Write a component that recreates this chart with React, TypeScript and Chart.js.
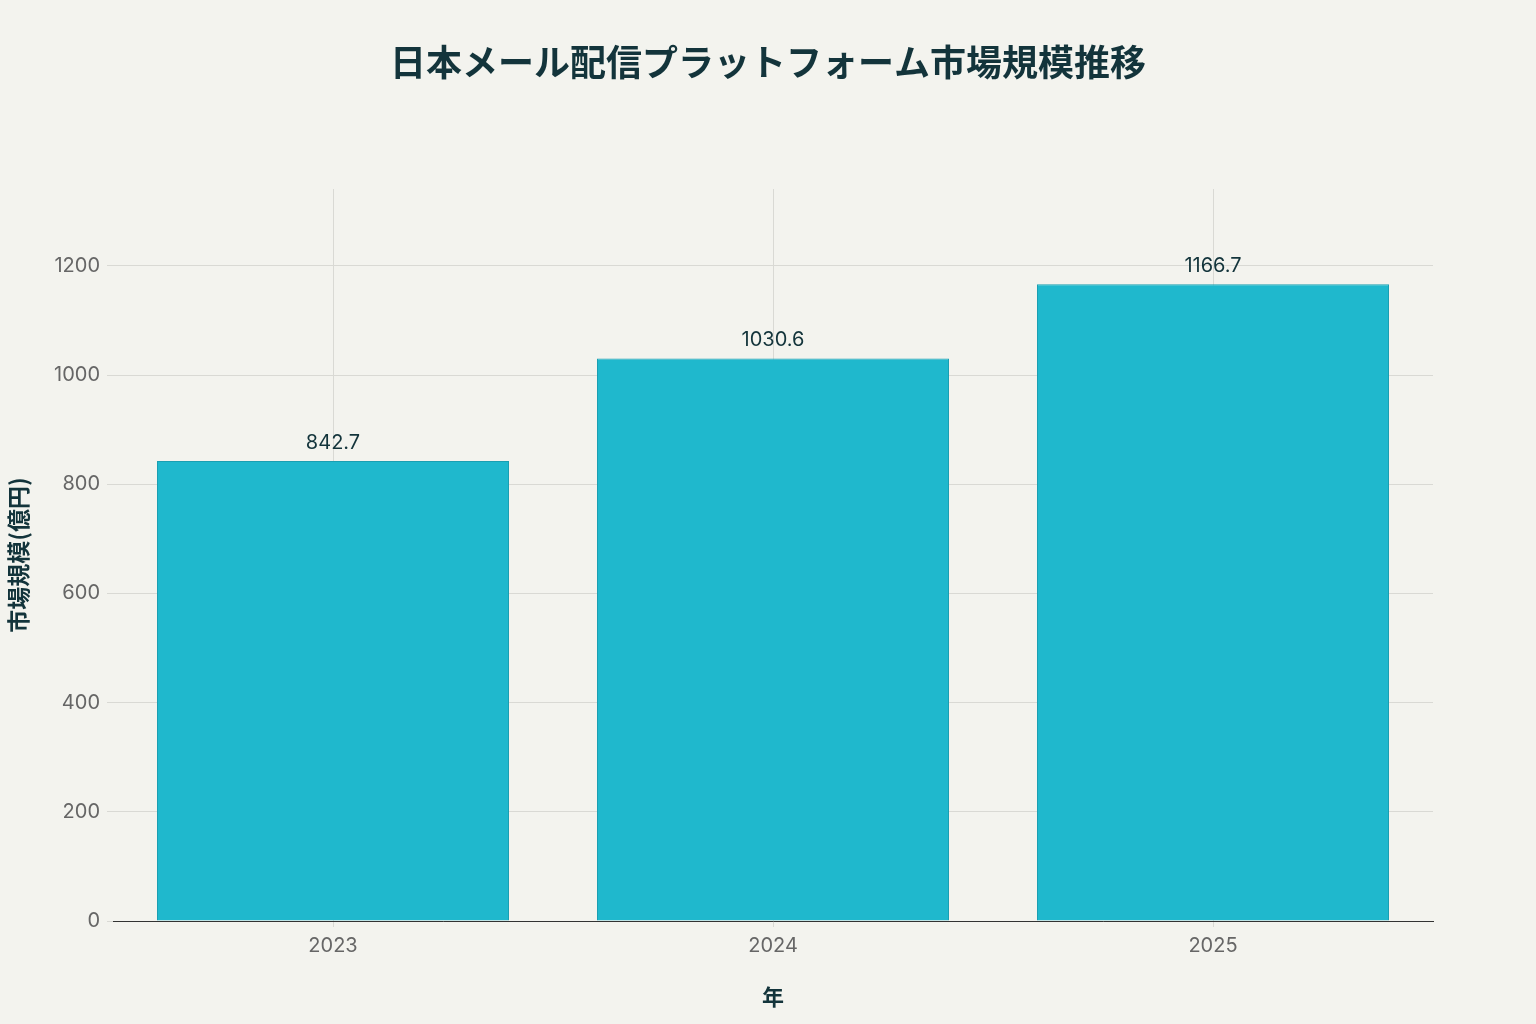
import { useEffect, useRef } from "react";
import { Chart, registerables, type Plugin } from "chart.js";

Chart.register(...registerables);

const years = ["2023", "2024", "2025"];
const marketSize = [842.7, 1030.6, 1166.7];

const TITLE = "日本メール配信プラットフォーム市場規模推移";
const X_TITLE = "年";
const Y_TITLE = "市場規模(億円)";

const BG = "#F3F3EE";
const BAR = "#1FB8CD";
const DARK = "#13343B";
const TICK = "#666666";
const GRID = "#D9D9D4";
const CJK = "'Noto Sans CJK JP', 'Noto Sans', sans-serif";
const SANS = "Inter, 'Noto Sans', sans-serif";

// background plus a title centred on the whole canvas
const backdrop: Plugin<"bar"> = {
  id: "backdrop",
  beforeDraw(chart) {
    const { ctx, width, height } = chart;
    ctx.save();
    ctx.fillStyle = BG;
    ctx.fillRect(0, 0, width, height);
    ctx.fillStyle = DARK;
    ctx.font = `bold 36px ${CJK}`;
    ctx.textAlign = "center";
    ctx.textBaseline = "middle";
    ctx.fillText(TITLE, width / 2, 62);
    ctx.restore();
  },
};

const valueLabels: Plugin<"bar"> = {
  id: "valueLabels",
  afterDatasetsDraw(chart) {
    const { ctx } = chart;
    const meta = chart.getDatasetMeta(0);
    ctx.save();
    ctx.fillStyle = DARK;
    ctx.font = `20px ${SANS}`;
    ctx.textAlign = "center";
    ctx.textBaseline = "alphabetic";
    meta.data.forEach((bar, i) => {
      const v = chart.data.datasets[0].data[i] as number;
      ctx.fillText(v.toFixed(1), bar.x, bar.y - 12);
    });
    ctx.restore();
  },
};

export default function App() {
  const canvasRef = useRef<HTMLCanvasElement>(null);
  const chartRef = useRef<Chart | null>(null);

  useEffect(() => {
    document.body.style.margin = "0";
    document.body.style.background = BG;
    if (!canvasRef.current) return;
    if (chartRef.current) chartRef.current.destroy();

    chartRef.current = new Chart(canvasRef.current, {
      type: "bar",
      data: {
        labels: years,
        datasets: [
          {
            label: Y_TITLE,
            data: marketSize,
            backgroundColor: BAR,
            borderColor: "#1A9FB2",
            borderWidth: 1,
            barPercentage: 0.8,
            categoryPercentage: 1,
          },
        ],
      },
      options: {
        responsive: false,
        animation: false,
        layout: { padding: { left: 0, right: 103, top: 189, bottom: 0 } },
        plugins: {
          legend: { display: false },
          tooltip: { enabled: false },
          title: { display: false },
        },
        scales: {
          x: {
            offset: true,
            grid: { offset: false, color: GRID, tickLength: 6, drawTicks: true },
            border: { display: true, color: "#333333", width: 1 },
            ticks: { color: TICK, font: { family: SANS, size: 20 }, padding: 7 },
            title: {
              display: true,
              text: X_TITLE,
              color: DARK,
              font: { family: CJK, size: 22, weight: "bold" },
              padding: { top: 0, bottom: 14 },
            },
            afterFit: (scale) => {
              scale.height = 103;
            },
          },
          y: {
            min: 0,
            max: 1341,
            grid: { color: GRID, tickLength: 6 },
            border: { display: false },
            ticks: {
              stepSize: 200,
              includeBounds: false,
              color: TICK,
              font: { family: SANS, size: 20 },
              padding: 7,
              callback: (v) => String(v),
            },
            title: {
              display: true,
              text: Y_TITLE,
              color: DARK,
              font: { family: CJK, size: 23, weight: "bold" },
              padding: { top: 4, bottom: 0 },
            },
            afterFit: (scale) => {
              scale.width = 113;
            },
          },
        },
      },
      plugins: [backdrop, valueLabels],
    });

    return () => chartRef.current?.destroy();
  }, []);

  return (
    <div style={{ width: 1536, height: 1024 }}>
      <canvas
        ref={canvasRef}
        width={1536}
        height={1024}
        role="img"
        aria-label="日本メール配信プラットフォーム市場規模推移の棒グラフ"
      />
    </div>
  );
}
